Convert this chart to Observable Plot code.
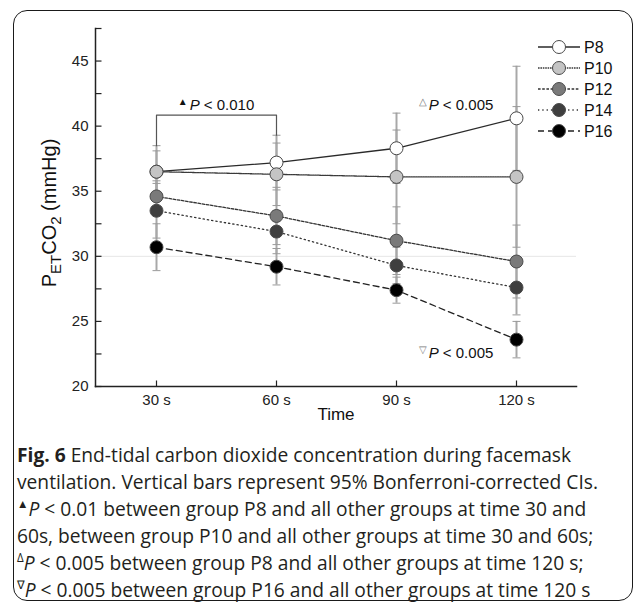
<!DOCTYPE html>
<html><head><meta charset="utf-8">
<script src="https://cdn.jsdelivr.net/npm/d3@7"></script>
<script src="https://cdn.jsdelivr.net/npm/@observablehq/plot@0.6"></script>
<style>
html,body{margin:0;padding:0;background:#fff;}
body{width:635px;height:603px;position:relative;overflow:hidden;font-family:"Liberation Sans",Arial,sans-serif;}
#frame{position:absolute;left:13px;top:10px;width:620px;height:591px;border:1.6px solid #1a1a1a;border-radius:14px;box-sizing:border-box;}
#chart{position:absolute;left:0;top:0;}
#caption{position:absolute;left:17px;top:441px;font-family:"Open Sans",Roboto,sans-serif;font-weight:400;font-size:20px;line-height:27px;color:#231f20;white-space:nowrap;transform-origin:0 0;}
#caption b{font-weight:700;}
#caption span.l{display:block;width:max-content;height:27px;line-height:27px;}
#caption sup{font-size:12px;line-height:0;vertical-align:0;position:relative;top:-8px;}
</style></head><body>
<div id="frame"></div>
<div id="chart"></div>
<div id="caption">
<span class="l"><b>Fig. 6</b> End-tidal carbon dioxide concentration during facemask</span>
<span class="l">ventilation. Vertical bars represent 95% Bonferroni-corrected CIs.</span>
<span class="l"><sup>▲</sup><i>P</i> &lt; 0.01 between group P8 and all other groups at time 30 and</span>
<span class="l">60s, between group P10 and all other groups at time 30 and 60s;</span>
<span class="l"><sup>Δ</sup><i>P</i> &lt; 0.005 between group P8 and all other groups at time 120 s;</span>
<span class="l"><sup>∇</sup><i>P</i> &lt; 0.005 between group P16 and all other groups at time 120 s</span>
</div>
<script>
// ---- data ----
const times = ["30 s", "60 s", "90 s", "120 s"];
const groups = ["P8", "P10", "P12", "P14", "P16"];
const p8  = [36.5, 37.2, 38.3, 40.6];
const p10 = [36.5, 36.3, 36.1, 36.1];
const p12 = [34.6, 33.1, 31.2, 29.6];
const p14 = [33.5, 31.9, 29.3, 27.6];
const p16 = [30.7, 29.2, 27.4, 23.6];
const p8Lo  = [34.5, 35.1, 35.6, 36.6], p8Hi  = [38.5, 39.3, 41.0, 44.6];
const p10Lo = [34.9, 33.9, 32.5, 30.7], p10Hi = [38.1, 38.7, 39.7, 41.5];
const p12Lo = [33.4, 30.9, 28.6, 26.8], p12Hi = [35.8, 35.3, 33.8, 32.4];
const p14Lo = [31.4, 30.2, 27.9, 25.5], p14Hi = [35.6, 33.5, 30.7, 29.7];
const p16Lo = [28.9, 27.8, 26.4, 22.2], p16Hi = [32.5, 30.6, 28.4, 25.0];
const yMajorTicks = [20, 25, 30, 35, 40, 45];
const yAllTicks = [20, 22.5, 25, 27.5, 30, 32.5, 35, 37.5, 40, 42.5, 45, 47.5];
const bracketY = 40.85;
const annotations = [
  {sym: "▲", text: " < 0.010", from: "30 s", to: "60 s", y: 41.2},
  {sym: "△", text: " < 0.005", from: "90 s", to: "120 s", y: 41.2},
  {sym: "▽", text: " < 0.005", from: "90 s", to: "120 s", y: 22.15}
];

// styles
const fills = ["#ffffff", "#c4c4c4", "#7a7a7a", "#3f3f3f", "#000000"];
const dashes = [null, "1.6,0.8", "2.6,1.6", "1.3,3", "6,4"];
const lineColors = ["#2a2a2a", "#3a3a3a", "#333", "#333", "#222"];

const means = [p8, p10, p12, p14, p16];
const lows = [p8Lo, p10Lo, p12Lo, p14Lo, p16Lo];
const highs = [p8Hi, p10Hi, p12Hi, p14Hi, p16Hi];
const rows = [];
groups.forEach((g, gi) => times.forEach((t, ti) => rows.push({
  group: g, gi, time: t, value: means[gi][ti], lo: lows[gi][ti], hi: highs[gi][ti]
})));

const bracket = [
  {time: "30 s", y: highs[0][0]},
  {time: "30 s", y: bracketY},
  {time: "60 s", y: bracketY},
  {time: "60 s", y: highs[0][1]}
];

// small path symbols: CI caps and inward axis ticks
const capSymbol = {draw(ctx) { ctx.moveTo(-4, 0); ctx.lineTo(4, 0); }};
const yTickSymbol = {draw(ctx) { ctx.moveTo(0, 0); ctx.lineTo(6, 0); }};
const xTickSymbol = {draw(ctx) { ctx.moveTo(0, 0); ctx.lineTo(0, -6); }};

const font = "Liberation Sans, Arial, sans-serif";
const plot = Plot.plot({
  width: 635, height: 425,
  marginLeft: 95, marginRight: 59, marginTop: 28, marginBottom: 39,
  style: {fontFamily: font, fontSize: "15px", color: "#222", background: "transparent", overflow: "visible"},
  x: {type: "point", domain: times, padding: 0.5, label: null},
  y: {domain: [20, 47.5], label: null},
  color: {domain: groups, range: fills},
  marks: [
    Plot.ruleY([30], {stroke: "#e6e6e6", strokeWidth: 1}),
    Plot.axisY({ticks: yMajorTicks, tickSize: 0, tickPadding: 7, fontSize: 15}),
    Plot.axisX({tickSize: 0, tickPadding: 8, fontSize: 15}),
    Plot.dot(yAllTicks, {y: d => d, frameAnchor: "left", symbol: yTickSymbol, fill: "none", stroke: "#222", strokeWidth: 1.2}),
    Plot.dot(times, {x: d => d, frameAnchor: "bottom", symbol: xTickSymbol, fill: "none", stroke: "#222", strokeWidth: 1.2}),
    Plot.frame({anchor: "left", stroke: "#222", strokeWidth: 1.5}),
    Plot.frame({anchor: "bottom", stroke: "#222", strokeWidth: 1.5}),
    Plot.text(["Time"], {frameAnchor: "bottom", dy: 33, fontSize: 17, fill: "#111"}),
    Plot.ruleX(rows, {x: "time", y1: "lo", y2: "hi", stroke: "#a8a8a8", strokeWidth: 2}),
    Plot.dot(rows, {x: "time", y: "lo", symbol: capSymbol, fill: "none", stroke: "#9a9a9a", strokeWidth: 1}),
    Plot.dot(rows, {x: "time", y: "hi", symbol: capSymbol, fill: "none", stroke: "#9a9a9a", strokeWidth: 1}),
    Plot.line(bracket, {x: "time", y: "y", stroke: "#555", strokeWidth: 1.2}),
    ...groups.map((g, gi) => Plot.line(rows.filter(r => r.gi === gi), {
      x: "time", y: "value", stroke: lineColors[gi], strokeWidth: 1.3,
      strokeDasharray: dashes[gi] ?? undefined
    })),
    Plot.dot(rows, {x: "time", y: "value", r: 6.5, fill: "group", stroke: "#4a4a4a", strokeWidth: 1})
  ]
});
document.getElementById("chart").appendChild(plot);

const xs = plot.scale("x"), ys = plot.scale("y");
const svg = d3.select(plot);

// y axis title with subscripts
const yl = svg.append("text")
  .attr("transform", "translate(56,213) rotate(-90)")
  .attr("text-anchor", "middle")
  .attr("fill", "#111")
  .style("font-family", font).style("font-size", "20px");
yl.append("tspan").text("P");
yl.append("tspan").attr("dy", 5).style("font-size", "15px").text("ET");
yl.append("tspan").attr("dy", -5).text("CO");
yl.append("tspan").attr("dy", 5).style("font-size", "15px").text("2");
yl.append("tspan").attr("dy", -5).text(" (mmHg)");

// significance annotations
annotations.forEach(a => {
  const cx = (xs.apply(a.from) + xs.apply(a.to)) / 2;
  const t = svg.append("text")
    .attr("x", cx).attr("y", ys.apply(a.y))
    .attr("text-anchor", "middle").attr("fill", "#111")
    .style("font-family", font).style("font-size", "15px");
  t.append("tspan").attr("dy", -5).style("font-size", "10px").attr("fill", a.sym === "▲" ? "#111" : "#777").text(a.sym);
  t.append("tspan").attr("dy", 5).attr("dx", 2).style("font-style", "italic").text("P");
  t.append("tspan").text(a.text);
});

// legend
const lg = svg.append("g").style("font-family", font).style("font-size", "16px");
groups.forEach((g, gi) => {
  const y = 47 + gi * 21;
  lg.append("line").attr("x1", 538).attr("x2", 580).attr("y1", y).attr("y2", y)
    .attr("stroke", lineColors[gi]).attr("stroke-width", 1.3)
    .attr("stroke-dasharray", dashes[gi]);
  lg.append("circle").attr("cx", 559).attr("cy", y).attr("r", 6.5)
    .attr("fill", fills[gi]).attr("stroke", "#4a4a4a");
  lg.append("text").attr("x", 584).attr("y", y).attr("dy", "0.36em")
    .attr("text-anchor", "start").attr("fill", "#111").text(g);
});

// condense caption to the reference's width
const cap = document.getElementById("caption");
const maxW = Math.max(...[...cap.querySelectorAll("span.l")].map(s => s.getBoundingClientRect().width));
cap.style.transform = `scaleX(${581 / maxW})`;
</script>
</body></html>
